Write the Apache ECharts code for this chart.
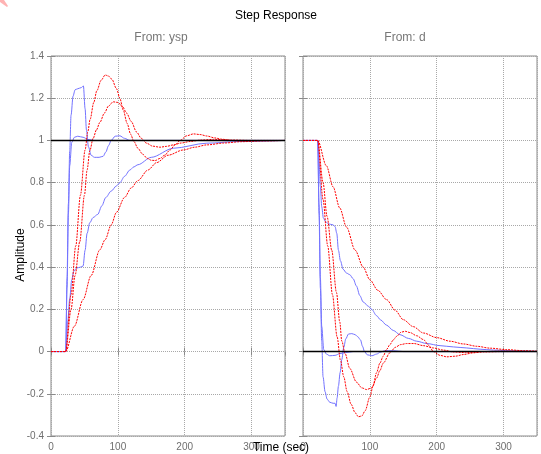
<!DOCTYPE html>
<html><head><meta charset="utf-8">
<script src="https://cdn.jsdelivr.net/npm/echarts@6/dist/echarts.min.js"></script>
<style>html,body{margin:0;padding:0;background:#fff}#c{width:541px;height:454px}</style>
</head><body><div id="c"></div>
<script>
// ---------- texts ----------
const chartTitle = 'Step Response';
const panelTitles = ['From: ysp', 'From: d'];
const xAxisName = 'Time (sec)';
const yAxisName = 'Amplitude';
const xTickMin = 0, xTickMax = 350, xTickStep = 100;
const yTickMin = -0.4, yTickMax = 1.4, yTickStep = 0.2;

// ---------- From: ysp (left panel) ----------
const yspBlueA_t = [0, 22, 24, 26, 28, 30, 33, 36, 40, 45, 48.5, 51, 53, 56, 60, 65, 72, 78, 82, 86, 90, 96, 103, 110, 118, 130, 350];
const yspBlueA_v = [0, 0, 0.35, 0.7, 0.95, 1.12, 1.21, 1.24, 1.245, 1.25, 1.258, 1.15, 1.05, 0.97, 0.93, 0.92, 0.92, 0.925, 0.945, 0.975, 1.0, 1.02, 1.022, 1.01, 1.0, 1.0, 1.0];
const yspBlueB_t = [0, 22, 24, 26, 28, 31, 35, 40, 48, 55, 65, 80, 350];
const yspBlueB_v = [0, 0, 0.3, 0.65, 0.88, 0.99, 1.015, 1.02, 1.015, 1.005, 1.0, 1.0, 1.0];
const yspBlueC_t = [0, 22, 25, 28, 31, 34, 38, 44, 48, 51, 54, 58, 63, 70, 76, 82, 90, 98, 103, 110, 118, 124, 130, 150, 183, 233, 283, 350];
const yspBlueC_v = [0, 0, 0.14, 0.25, 0.34, 0.38, 0.395, 0.4, 0.405, 0.48, 0.56, 0.61, 0.635, 0.65, 0.69, 0.73, 0.76, 0.785, 0.8, 0.83, 0.86, 0.875, 0.885, 0.92, 0.963, 0.987, 0.995, 1.0];
const yspRedA_t = [0, 22, 30, 37, 44, 51, 55, 58.5, 64, 68.5, 75, 81, 86, 91, 98, 103, 108, 114, 119, 124, 130, 137, 144, 150, 156, 163, 170, 178, 186, 193, 203, 213, 223, 233, 245, 255, 270, 290, 320, 350];
const yspRedA_v = [0, 0, 0.27, 0.5, 0.74, 0.955, 1.04, 1.1, 1.18, 1.235, 1.285, 1.31, 1.305, 1.29, 1.245, 1.2, 1.144, 1.08, 1.03, 0.995, 0.963, 0.935, 0.915, 0.906, 0.905, 0.915, 0.93, 0.955, 0.98, 1.0, 1.022, 1.031, 1.028, 1.021, 1.012, 1.006, 1.0, 0.998, 0.999, 1.0];
const yspRedB_t = [0, 22, 30, 36, 43, 50, 54, 58, 63, 68, 73, 80, 86, 93, 100, 107, 113, 120, 128, 135, 143, 152, 163, 173, 183, 195, 208, 225, 243, 270, 300, 350];
const yspRedB_v = [0, 0, 0.2, 0.36, 0.52, 0.74, 0.86, 0.95, 1.01, 1.05, 1.085, 1.13, 1.163, 1.183, 1.18, 1.16, 1.13, 1.09, 1.04, 1.01, 0.987, 0.973, 0.968, 0.972, 0.979, 0.988, 0.995, 1.002, 1.005, 1.002, 1.0, 1.0];
const yspRedC_t = [0, 22, 35, 48, 60, 73, 81, 90, 98, 110, 120, 130, 145, 158, 175, 198, 215, 233, 260, 283, 320, 350];
const yspRedC_v = [0, 0, 0.12, 0.246, 0.36, 0.482, 0.53, 0.6, 0.66, 0.73, 0.775, 0.81, 0.86, 0.895, 0.93, 0.955, 0.968, 0.979, 0.988, 0.994, 0.998, 1.0];
const yspFinal = 1;

// ---------- From: d (right panel) ----------
const dBlueA_t = [0, 22, 24, 26, 28, 30, 33, 36, 40, 45, 48, 49.5, 51, 53, 55.5, 58, 61, 64, 68, 73, 78, 82, 86, 89, 92, 96, 103, 110, 116, 122, 135, 150, 350];
const dBlueA_v = [1, 1, 0.65, 0.3, 0.05, -0.12, -0.19, -0.225, -0.24, -0.245, -0.245, -0.26, -0.22, -0.164, -0.1, -0.038, 0.02, 0.06, 0.083, 0.085, 0.08, 0.07, 0.055, 0.025, 0.0, -0.015, -0.02, -0.012, -0.003, 0.004, 0.004, 0.0, 0.0];
const dBlueB_t = [0, 22, 24, 26, 28, 31, 35, 40, 48, 55, 63, 75, 350];
const dBlueB_v = [1, 1, 0.7, 0.35, 0.12, 0.01, -0.012, -0.02, -0.018, -0.01, -0.005, 0, 0];
const dBlueC_t = [0, 22, 24, 26, 28, 30.5, 34, 38, 45, 48, 50.5, 53, 56, 60, 65, 70, 75, 80, 85, 90, 98, 103, 110, 116, 125, 135, 145, 158, 170, 185, 205, 225, 245, 265, 285, 320, 350];
const dBlueC_v = [1, 1, 0.9, 0.78, 0.687, 0.632, 0.615, 0.605, 0.6, 0.592, 0.56, 0.48, 0.43, 0.39, 0.372, 0.364, 0.345, 0.31, 0.265, 0.235, 0.214, 0.199, 0.17, 0.15, 0.125, 0.1, 0.08, 0.062, 0.049, 0.038, 0.028, 0.022, 0.017, 0.011, 0.007, 0.003, 0.001];
const dRedA_t = [0, 22, 30, 37, 44, 51, 56, 61, 66, 72, 78, 83, 88, 93, 100, 105, 110, 115, 120, 125, 130, 135, 140, 147, 153, 160, 170, 180, 188, 195, 205, 215, 228, 240, 255, 270, 300, 350];
const dRedA_v = [1, 1, 0.72, 0.5, 0.27, 0.07, -0.04, -0.12, -0.19, -0.25, -0.29, -0.309, -0.305, -0.28, -0.215, -0.16, -0.1, -0.055, -0.022, 0.01, 0.033, 0.055, 0.072, 0.092, 0.096, 0.09, 0.075, 0.057, 0.03, 0.0, -0.018, -0.025, -0.022, -0.014, -0.006, 0.0, 0.002, 0.0];
const dRedB_t = [0, 22, 30, 36, 43, 50, 55, 58, 63, 70, 80, 88, 95, 103, 110, 115, 120, 130, 138, 146, 155, 166, 180, 195, 210, 225, 243, 270, 300, 350];
const dRedB_v = [1, 1, 0.8, 0.64, 0.48, 0.28, 0.14, 0.05, -0.01, -0.08, -0.145, -0.172, -0.18, -0.172, -0.126, -0.09, -0.055, -0.006, 0.02, 0.033, 0.038, 0.038, 0.028, 0.017, 0.007, -0.002, -0.005, -0.002, 0, 0];
const dRedC_t = [0, 22, 35, 45, 55, 65, 78, 90, 100, 112, 125, 138, 150, 165, 180, 200, 220, 240, 260, 280, 305, 330, 350];
const dRedC_v = [1, 1, 0.88, 0.78, 0.68, 0.59, 0.48, 0.4, 0.34, 0.29, 0.246, 0.195, 0.151, 0.118, 0.088, 0.066, 0.049, 0.036, 0.025, 0.016, 0.009, 0.004, 0.002];
const dFinal = 0;

// ---------- styling ----------
const BLUE = '#7373ff', RED = '#ff0000', GRID = '#a8a8a8', FRAME = '#8a8a8a', LABEL = '#6e6e6e';
const FONT = '"Liberation Sans", Arial, sans-serif';
const pairs = (t, v) => t.map((x, i) => [x, v[i]]);

function lineSeries(xi, t, v, kind) {
  const red = kind === 'red';
  return {
    type: 'line', xAxisIndex: xi, yAxisIndex: xi, data: pairs(t, v),
    showSymbol: false, smooth: 0.3, smoothMonotone: 'x', silent: true,
    lineStyle: { color: red ? RED : BLUE, width: 1, type: red ? [2, 1] : 'solid' },
    z: red ? 3 : 2
  };
}
function refSeries(xi, val) {
  return {
    type: 'line', xAxisIndex: xi, yAxisIndex: xi, data: [[xTickMin, val], [xTickMax, val]],
    showSymbol: false, silent: true, lineStyle: { color: '#000', width: 1.5 }, z: 4
  };
}

const grids = [
  { left: 51, top: 56, width: 234, height: 380, show: true, borderColor: FRAME, borderWidth: 1, backgroundColor: 'rgba(0,0,0,0)' },
  { left: 303, top: 56, width: 234, height: 380, show: true, borderColor: FRAME, borderWidth: 1, backgroundColor: 'rgba(0,0,0,0)' }
];

function xAx(g, top) {
  return {
    gridIndex: g, type: 'value', min: xTickMin, max: xTickMax, interval: xTickStep,
    position: top ? 'top' : 'bottom',
    axisLine: { show: false },
    axisTick: { show: true, inside: true, length: 4, lineStyle: { color: FRAME } },
    axisLabel: { show: !top, showMaxLabel: false, color: LABEL, fontSize: 10, margin: 6, fontFamily: FONT },
    splitLine: { show: !top, lineStyle: { color: GRID, width: 1, type: [1, 1] } }
  };
}
function yAx(g, right, labels) {
  return {
    gridIndex: g, type: 'value', min: yTickMin, max: yTickMax, interval: yTickStep,
    position: right ? 'right' : 'left',
    axisLine: { show: false },
    axisTick: { show: true, inside: true, length: 4, lineStyle: { color: FRAME } },
    axisLabel: { show: labels, color: LABEL, fontSize: 10, margin: 7, fontFamily: FONT },
    splitLine: { show: !right, lineStyle: { color: GRID, width: 1, type: [1, 1] } }
  };
}

const txt = (x, y, text, fill, size, rot) => ({
  type: 'text', x: x, y: y, rotation: rot || 0, silent: true, z: 10,
  style: { text: text, fill: fill, font: size + 'px ' + FONT, align: 'center', verticalAlign: 'middle', textAlign: 'center', textVerticalAlign: 'middle' }
});

const option = {
  animation: false,
  backgroundColor: '#fff',
  grid: grids,
  xAxis: [xAx(0, false), xAx(1, false), xAx(0, true), xAx(1, true)],
  yAxis: [yAx(0, false, true), yAx(1, false, false), yAx(0, true, false), yAx(1, true, false)],
  series: [
    lineSeries(0, yspBlueA_t, yspBlueA_v, 'blue'),
    lineSeries(0, yspBlueB_t, yspBlueB_v, 'blue'),
    lineSeries(0, yspBlueC_t, yspBlueC_v, 'blue'),
    lineSeries(0, yspRedA_t, yspRedA_v, 'red'),
    lineSeries(0, yspRedB_t, yspRedB_v, 'red'),
    lineSeries(0, yspRedC_t, yspRedC_v, 'red'),
    refSeries(0, yspFinal),
    lineSeries(1, dBlueA_t, dBlueA_v, 'blue'),
    lineSeries(1, dBlueB_t, dBlueB_v, 'blue'),
    lineSeries(1, dBlueC_t, dBlueC_v, 'blue'),
    lineSeries(1, dRedA_t, dRedA_v, 'red'),
    lineSeries(1, dRedB_t, dRedB_v, 'red'),
    lineSeries(1, dRedC_t, dRedC_v, 'red'),
    refSeries(1, dFinal)
  ],
  graphic: [
    { type: 'polygon', silent: true, shape: { points: [[0, 0], [4, 0], [8, 6], [7, 7], [0, 2]] }, style: { fill: '#ffb3b3' } },
    txt(276, 16, chartTitle, '#000', 12),
    txt(161, 38, panelTitles[0], '#777', 12),
    txt(405, 38, panelTitles[1], '#777', 12),
    txt(21, 255, yAxisName, '#000', 12, Math.PI / 2),
    txt(281, 448, xAxisName, '#000', 12)
  ]
};

const chart = echarts.init(document.getElementById('c'), null, { renderer: 'canvas' });
chart.setOption(option);
</script>
</body></html>
